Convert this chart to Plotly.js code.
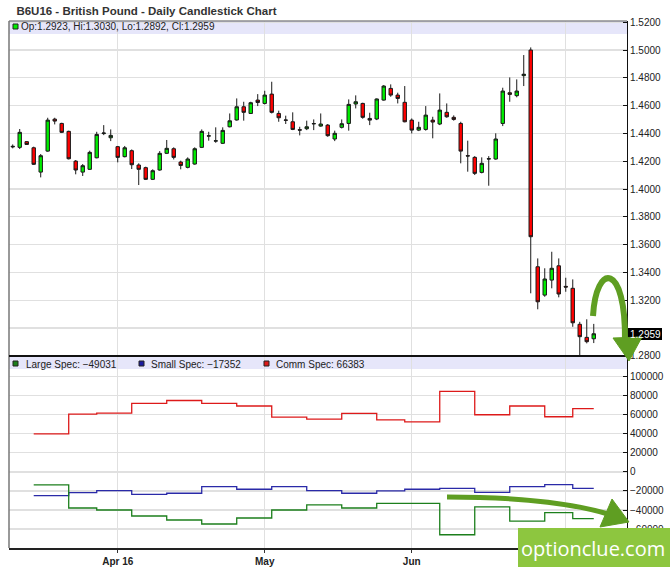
<!DOCTYPE html>
<html>
<head>
<meta charset="utf-8">
<script src="https://cdn.plot.ly/plotly-3.0.1.min.js"></script>
<style>html,body{margin:0;padding:0;background:#fff;}#chart{width:670px;height:567px;}</style>
</head>
<body>
<div id="chart"></div>
<script>
// ---------- DATA ----------
const dates = [
 "2016-03-10","2016-03-11","2016-03-14","2016-03-15","2016-03-16","2016-03-17","2016-03-18","2016-03-21","2016-03-22","2016-03-23","2016-03-24","2016-03-28","2016-03-29","2016-03-30","2016-03-31",
 "2016-04-01","2016-04-04","2016-04-05","2016-04-06","2016-04-07","2016-04-08","2016-04-11","2016-04-12","2016-04-13","2016-04-14","2016-04-15","2016-04-18","2016-04-19","2016-04-20","2016-04-21","2016-04-22","2016-04-25","2016-04-26","2016-04-27","2016-04-28","2016-04-29",
 "2016-05-02","2016-05-03","2016-05-04","2016-05-05","2016-05-06","2016-05-09","2016-05-10","2016-05-11","2016-05-12","2016-05-13","2016-05-16","2016-05-17","2016-05-18","2016-05-19","2016-05-20","2016-05-23","2016-05-24","2016-05-25","2016-05-26","2016-05-27","2016-05-31",
 "2016-06-01","2016-06-02","2016-06-03","2016-06-06","2016-06-07","2016-06-08","2016-06-09","2016-06-10","2016-06-13","2016-06-14","2016-06-15","2016-06-16","2016-06-17","2016-06-20","2016-06-21","2016-06-22","2016-06-23","2016-06-24","2016-06-27","2016-06-28","2016-06-29","2016-06-30",
 "2016-07-01","2016-07-05","2016-07-06","2016-07-07","2016-07-08"
];
const open = [
 1.4303,1.4300,1.4341,1.4297,1.4122,1.4273,1.4503,1.4472,1.4415,1.4201,1.4122,1.4142,1.4225,1.4399,1.4369,
 1.4305,1.4233,1.4276,1.4173,1.4154,1.4070,1.4137,1.4257,1.4290,1.4194,1.4156,1.4180,1.4300,1.4381,1.4345,1.4329,1.4448,1.4497,1.4592,1.4544,1.4640,
 1.4616,1.4683,1.4544,1.4497,1.4484,1.4427,1.4434,1.4469,1.4453,1.4460,1.4360,1.4444,1.4472,1.4612,1.4616,1.4508,1.4504,1.4640,1.4724,1.4676,1.4624,
 1.4496,1.4424,1.4429,1.4496,1.4468,1.4552,1.4516,1.4472,1.4240,1.4228,1.4120,1.4216,1.4216,1.4472,1.4693,1.4672,1.4816,1.5000,1.3441,1.3237,1.3345,1.3448,
 1.3300,1.3286,1.3027,1.2933,1.2923
];
const high = [
 1.4321,1.4432,1.4345,1.4305,1.4252,1.4513,1.4513,1.4477,1.4420,1.4209,1.4180,1.4276,1.4412,1.4460,1.4429,
 1.4310,1.4310,1.4285,1.4185,1.4161,1.4142,1.4273,1.4353,1.4300,1.4204,1.4228,1.4300,1.4429,1.4412,1.4444,1.4444,1.4544,1.4652,1.4628,1.4628,1.4683,
 1.4707,1.4772,1.4564,1.4528,1.4552,1.4448,1.4492,1.4501,1.4544,1.4468,1.4420,1.4501,1.4645,1.4674,1.4621,1.4549,1.4652,1.4748,1.4753,1.4693,1.4741,
 1.4508,1.4484,1.4597,1.4520,1.4688,1.4616,1.4530,1.4484,1.4348,1.4237,1.4228,1.4237,1.4401,1.4729,1.4803,1.4789,1.4964,1.5019,1.3501,1.3430,1.3549,1.3501,
 1.3362,1.3350,1.3045,1.3063,1.3030
];
const low = [
 1.4293,1.4288,1.4317,1.4173,1.4084,1.4268,1.4465,1.4403,1.4213,1.4106,1.4094,1.4137,1.4221,1.4388,1.4345,
 1.4192,1.4228,1.4144,1.4029,1.4065,1.4065,1.4132,1.4252,1.4213,1.4142,1.4149,1.4175,1.4295,1.4348,1.4333,1.4324,1.4444,1.4492,1.4492,1.4540,1.4597,
 1.4609,1.4544,1.4484,1.4468,1.4424,1.4386,1.4424,1.4424,1.4448,1.4376,1.4345,1.4436,1.4420,1.4580,1.4506,1.4460,1.4496,1.4636,1.4664,1.4616,1.4480,
 1.4400,1.4417,1.4420,1.4365,1.4460,1.4513,1.4492,1.4185,1.4125,1.4101,1.4113,1.4024,1.4211,1.4453,1.4628,1.4660,1.4741,1.3250,1.3135,1.3225,1.3286,1.3221,
 1.3261,1.3009,1.2799,1.2890,1.2892
];
const close = [
 1.4307,1.4408,1.4321,1.4178,1.4240,1.4496,1.4489,1.4408,1.4218,1.4137,1.4168,1.4264,1.4393,1.4403,1.4386,
 1.4228,1.4297,1.4175,1.4142,1.4070,1.4132,1.4257,1.4293,1.4228,1.4170,1.4216,1.4290,1.4415,1.4383,1.4347,1.4422,1.4491,1.4592,1.4552,1.4621,1.4623,
 1.4676,1.4552,1.4513,1.4495,1.4429,1.4424,1.4448,1.4471,1.4468,1.4384,1.4401,1.4470,1.4609,1.4628,1.4516,1.4496,1.4648,1.4741,1.4676,1.4652,1.4484,
 1.4424,1.4444,1.4532,1.4482,1.4568,1.4520,1.4501,1.4273,1.4238,1.4113,1.4185,1.4218,1.4360,1.4705,1.4681,1.4705,1.4826,1.3657,1.3189,1.3353,1.3430,1.3245,
 1.3295,1.3038,1.2938,1.2902,1.2959
];

// Commitment of Traders (weekly)
const cotDates  = ["2016-03-15","2016-03-22","2016-03-29","2016-04-05","2016-04-12","2016-04-19","2016-04-26","2016-05-03","2016-05-10","2016-05-17","2016-05-24","2016-05-31","2016-06-07","2016-06-14","2016-06-21","2016-06-28","2016-07-05","2016-07-08"];
const largeSpec = [-13700,-37900,-40000,-46300,-50500,-54700,-48400,-40000,-34700,-37900,-33000,-33000,-66000,-36800,-51600,-42800,-49031,-49031];
const smallSpec = [-24900,-21800,-19700,-23500,-22400,-15400,-18200,-15400,-19700,-22400,-20000,-18200,-17200,-21400,-15400,-13300,-17352,-17352];
const commSpec  = [40000,60700,61800,71900,75000,71900,69200,57600,55500,61400,54700,52600,84500,60000,69200,57900,66383,66383];

// month ticks (the July label sits under the watermark in the reference, so it is left blank)
const monthTickVals  = ["2016-04-01","2016-05-02","2016-06-01","2016-07-01"];
const monthTickText  = ["Apr 16","May","Jun",""];
const priceTicks = [1.28,1.30,1.32,1.34,1.36,1.38,1.40,1.42,1.44,1.46,1.48,1.50,1.52];
// the 1.3000 label is covered by the last-price box in the reference
const priceTickText = ["1.2800","","1.3200","1.3400","1.3600","1.3800","1.4000","1.4200","1.4400","1.4600","1.4800","1.5000","1.5200"];
const cotTicks = [-60000,-40000,-20000,0,20000,40000,60000,80000,100000];

// ---------- LAYOUT HELPERS (pixel -> paper) ----------
const L = 9, R = 627, T = 21, B = 548, DIV = 356;
const px = p => (p - L) / (R - L);
const py = p => (B - p) / (B - T);
function path(cmds) {
  return cmds.map(c => c[0] + ' ' + c.slice(1).reduce((a, v, i) => {
    if (i % 2 === 0) a.push(px(v).toFixed(5)); else a[a.length - 1] += ',' + py(v).toFixed(5);
    return a;
  }, []).join(' ')).join(' ');
}
const FONT = 'Liberation Sans, Arial, sans-serif';
const last = dates.length - 1;
const fmt = v => v.toFixed(4);

// ---------- TRACES ----------
const traces = [
  {
    type: 'candlestick', x: dates, open: open, high: high, low: low, close: close,
    xaxis: 'x', yaxis: 'y', whiskerwidth: 0,
    increasing: { fillcolor: '#00ee00', line: { color: '#1a1a1a', width: 1 } },
    decreasing: { fillcolor: '#ff0000', line: { color: '#1a1a1a', width: 1 } },
    hoverinfo: 'skip'
  },
  { type: 'scatter', mode: 'lines', x: cotDates, y: commSpec, xaxis: 'x', yaxis: 'y2',
    line: { shape: 'hv', color: '#dd1a1a', width: 1.3 }, hoverinfo: 'skip' },
  { type: 'scatter', mode: 'lines', x: cotDates, y: smallSpec, xaxis: 'x', yaxis: 'y2',
    line: { shape: 'hv', color: '#2a2aa8', width: 1.3 }, hoverinfo: 'skip' },
  { type: 'scatter', mode: 'lines', x: cotDates, y: largeSpec, xaxis: 'x', yaxis: 'y2',
    line: { shape: 'hv', color: '#1c7f1c', width: 1.3 }, hoverinfo: 'skip' }
];

const ARROW = '#5f9e22';
const shapes = [
  { type: 'rect', xref: 'paper', yref: 'paper', x0: 0, x1: 1, y0: py(34), y1: py(21), fillcolor: '#e6e6fa', line: { width: 0 }, layer: 'below' },
  { type: 'rect', xref: 'paper', yref: 'paper', x0: 0, x1: 1, y0: py(369), y1: py(DIV), fillcolor: '#e6e6fa', line: { width: 0 }, layer: 'below' },
  { type: 'line', xref: 'paper', yref: 'paper', x0: 0, x1: 1, y0: 1, y1: 1, line: { color: '#555', width: 1 } },
  { type: 'line', xref: 'paper', yref: 'paper', x0: 0, x1: 0, y0: 0, y1: 1, line: { color: '#777', width: 1.5 } },
  { type: 'line', xref: 'paper', yref: 'paper', x0: 0, x1: 1, y0: py(DIV), y1: py(DIV), line: { color: '#111', width: 2 } },
  { type: 'rect', xref: 'paper', yref: 'paper', x0: px(13), x1: px(18), y0: py(29), y1: py(24), fillcolor: '#00ee00', line: { color: '#222', width: 1 } },
  { type: 'rect', xref: 'paper', yref: 'paper', x0: px(13), x1: px(18), y0: py(366), y1: py(361), fillcolor: '#1c7f1c', line: { color: '#222', width: 1 } },
  { type: 'rect', xref: 'paper', yref: 'paper', x0: px(139), x1: px(144), y0: py(366), y1: py(361), fillcolor: '#1a1aa0', line: { color: '#222', width: 1 } },
  { type: 'rect', xref: 'paper', yref: 'paper', x0: px(264), x1: px(269), y0: py(366), y1: py(361), fillcolor: '#dd1a1a', line: { color: '#222', width: 1 } },
  { type: 'rect', xref: 'paper', yref: 'paper', x0: px(627), x1: px(662), y0: py(340), y1: py(328), fillcolor: '#000', line: { width: 0 } },
  { type: 'path', xref: 'paper', yref: 'paper', path: path([['M', 593, 316], ['C', 596, 262, 626, 262, 625, 341]]), line: { color: ARROW, width: 6 } },
  { type: 'path', xref: 'paper', yref: 'paper', path: path([['M', 613, 338], ['L', 642, 337], ['L', 629, 361], ['Z']]), fillcolor: ARROW, line: { color: ARROW, width: 1 } },
  { type: 'path', xref: 'paper', yref: 'paper', path: path([['M', 447, 497], ['C', 510, 497, 568, 502, 608, 514]]), line: { color: ARROW, width: 5 } },
  { type: 'path', xref: 'paper', yref: 'paper', path: path([['M', 612, 499], ['L', 600, 527], ['L', 629, 522], ['Z']]), fillcolor: ARROW, line: { color: ARROW, width: 1 } },
  { type: 'rect', xref: 'paper', yref: 'paper', x0: px(518), x1: px(671), y0: py(568), y1: py(528), fillcolor: '#8dc63f', line: { width: 0 } }
];

const annotations = [
  { xref: 'paper', yref: 'paper', x: px(19), y: py(27), xanchor: 'left', yanchor: 'middle', showarrow: false,
    text: 'Op:' + fmt(open[last]) + ', Hi:' + fmt(high[last]) + ', Lo:' + fmt(low[last]) + ', Cl:' + fmt(close[last]),
    font: { family: FONT, size: 10, color: '#222' } },
  { xref: 'paper', yref: 'paper', x: px(24), y: py(364), xanchor: 'left', yanchor: 'middle', showarrow: false,
    text: 'Large Spec: \u2212' + Math.abs(largeSpec[largeSpec.length - 1]), font: { family: FONT, size: 10, color: '#222' } },
  { xref: 'paper', yref: 'paper', x: px(149), y: py(364), xanchor: 'left', yanchor: 'middle', showarrow: false,
    text: 'Small Spec: \u2212' + Math.abs(smallSpec[smallSpec.length - 1]), font: { family: FONT, size: 10, color: '#222' } },
  { xref: 'paper', yref: 'paper', x: px(274), y: py(364), xanchor: 'left', yanchor: 'middle', showarrow: false,
    text: 'Comm Spec: ' + commSpec[commSpec.length - 1], font: { family: FONT, size: 10, color: '#222' } },
  { xref: 'paper', yref: 'paper', x: px(645), y: py(334), xanchor: 'center', yanchor: 'middle', showarrow: false,
    text: fmt(close[last]), font: { family: FONT, size: 10, color: '#fff' } },
  { xref: 'paper', yref: 'paper', x: px(593), y: py(548), xanchor: 'center', yanchor: 'middle', showarrow: false,
    text: 'optionclue.com', font: { family: 'Open Sans, Liberation Sans, sans-serif', size: 20, color: '#fff' } }
];

const layout = {
  width: 670, height: 567,
  margin: { l: L, r: 670 - R, t: T, b: 567 - B, pad: 0 },
  paper_bgcolor: '#fff', plot_bgcolor: 'rgba(0,0,0,0)',
  showlegend: false,
  boxgap: 0.3,
  title: { text: '<b>B6U16 - British Pound - Daily Candlestick Chart</b>', x: 8 / 670, xanchor: 'left', xref: 'paper',
           y: 1 - 11 / 567, yanchor: 'middle', yref: 'container', pad: { l: 0, t: 0, b: 0, r: 0 },
           font: { family: FONT, size: 11.5, color: '#333' } },
  xaxis: {
    type: 'category', categoryorder: 'array', categoryarray: dates,
    range: [-0.53, 87.75], anchor: 'y2',
    tickmode: 'array', tickvals: monthTickVals, ticktext: monthTickText,
    ticks: 'outside', ticklen: 3, tickcolor: '#333',
    tickfont: { family: FONT, size: 10, color: '#222', weight: 'bold' },
    showgrid: true, gridcolor: '#e0e0e0', gridwidth: 1.2,
    showline: true, linecolor: '#222', linewidth: 1.5,
    rangeslider: { visible: false }, fixedrange: true
  },
  yaxis: {
    domain: [py(DIV), 1], range: [1.2799, 1.5209], side: 'right', anchor: 'x',
    tickmode: 'array', tickvals: priceTicks, ticktext: priceTickText,
    ticks: 'inside', ticklen: 4, tickcolor: '#111',
    tickfont: { family: FONT, size: 10, color: '#222' },
    showgrid: true, gridcolor: '#e0e0e0', gridwidth: 1.2,
    showline: true, linecolor: '#111', linewidth: 1, zeroline: false, fixedrange: true
  },
  yaxis2: {
    domain: [0, py(DIV)], range: [-79900, 121700], side: 'right', anchor: 'x',
    tickmode: 'array', tickvals: cotTicks, tickformat: 'd',
    ticks: 'inside', ticklen: 4, tickcolor: '#111',
    tickfont: { family: FONT, size: 10, color: '#222' },
    showgrid: true, gridcolor: '#e0e0e0', gridwidth: 1.2,
    showline: true, linecolor: '#111', linewidth: 1, zeroline: false, fixedrange: true
  },
  shapes: shapes,
  annotations: annotations
};

Plotly.newPlot('chart', traces, layout, { displayModeBar: false, staticPlot: true });
</script>
</body>
</html>
